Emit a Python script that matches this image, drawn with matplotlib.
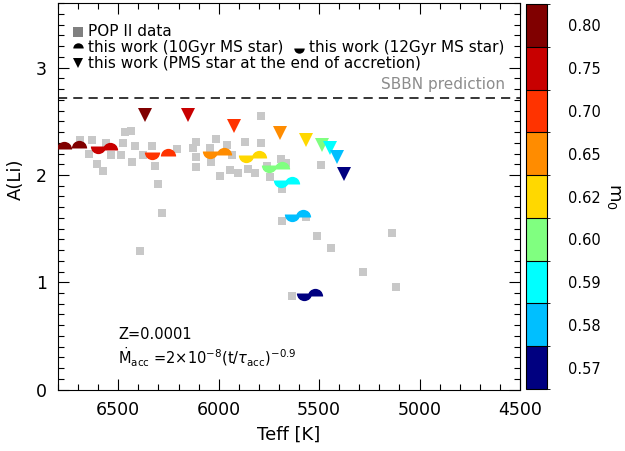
import matplotlib
matplotlib.use("Agg")
import matplotlib.pyplot as plt
import matplotlib.colors as mcolors
import matplotlib.colorbar as mcolorbar
from matplotlib.ticker import MultipleLocator
import numpy as np

# Initial stellar masses and their colours
masses = [0.80, 0.75, 0.70, 0.65, 0.62, 0.60, 0.59, 0.58, 0.57]
mass_colors = ['#800000', '#c80000', '#ff3300', '#ff8c00', '#ffd800',
               '#80ff80', '#00ffff', '#00bfff', '#000080']

# PMS stars at the end of accretion (one per mass)
pms_mass = [0.80, 0.75, 0.70, 0.65, 0.62, 0.60, 0.59, 0.58, 0.57]
pms_teff = [6368, 6154, 5925, 5696, 5563, 5487, 5447, 5413, 5376]
pms_ali = [2.56, 2.56, 2.46, 2.39, 2.33, 2.28, 2.25, 2.17, 2.01]

# 10 Gyr main-sequence stars
ms10_mass = [0.80, 0.80, 0.75, 0.70, 0.65, 0.62, 0.60, 0.59, 0.58, 0.57]
ms10_teff = [6772, 6697, 6543, 6250, 5972, 5798, 5686, 5634, 5579, 5522]
ms10_ali = [2.24, 2.25, 2.23, 2.18, 2.19, 2.16, 2.06, 1.92, 1.61, 0.87]

# 12 Gyr main-sequence stars
ms12_mass = [0.75, 0.70, 0.65, 0.62, 0.60, 0.59, 0.58, 0.57]
ms12_teff = [6602, 6333, 6041, 5865, 5751, 5691, 5634, 5576]
ms12_ali = [2.27, 2.21, 2.22, 2.19, 2.09, 1.95, 1.64, 0.90]

# Population II halo stars
pop2_teff = [6692, 6629, 6646, 6606, 6576, 6559, 6534, 6468, 6438, 6476,
             6484, 6418, 6431, 6377, 6330, 6318, 6302, 6282, 6392, 6210,
             6111, 6128, 6111, 6111, 6011, 6045, 6036, 5961, 5936, 5945,
             5995, 5904, 5870, 5854, 5821, 5787, 5787, 5762, 5746, 5688,
             5663, 5685, 5490, 5685, 5564, 5510, 5442, 5281, 5136, 5116,
             5635]
pop2_ali = [2.33, 2.33, 2.20, 2.10, 2.04, 2.30, 2.19, 2.40, 2.41, 2.30,
            2.19, 2.27, 2.12, 2.19, 2.27, 2.08, 1.92, 1.65, 1.29, 2.24,
            2.31, 2.25, 2.17, 2.07, 2.34, 2.25, 2.12, 2.28, 2.19, 2.05,
            1.99, 2.02, 2.31, 2.06, 2.02, 2.55, 2.30, 2.08, 1.98, 2.15,
            2.11, 1.87, 2.09, 1.57, 1.61, 1.43, 1.32, 1.10, 1.46, 0.96,
            0.87]

sbbn = 2.715

color_of = dict(zip(masses, mass_colors))

fig = plt.figure(figsize=(6.25, 4.51), dpi=100)
ax = fig.add_axes([0.0928, 0.1361, 0.7392, 0.8566])

ax.plot(pop2_teff, pop2_ali, 's', color='#c8c8c8', ms=6.2, mew=0, zorder=2)

for m, t, a in zip(ms12_mass, ms12_teff, ms12_ali):
    ax.plot(t, a, 'o', fillstyle='bottom', color=color_of[m],
            markerfacecoloralt='none', ms=11, mew=0, zorder=3)
for m, t, a in zip(ms10_mass, ms10_teff, ms10_ali):
    ax.plot(t, a, 'o', fillstyle='top', color=color_of[m],
            markerfacecoloralt='none', ms=11, mew=0, zorder=3)
for m, t, a in zip(pms_mass, pms_teff, pms_ali):
    ax.plot(t, a, 'v', color=color_of[m], ms=9.4, mew=0, zorder=4)

ax.axhline(sbbn, color='black', lw=1.1, ls=(0, (6, 4)), zorder=1)
ax.text(4575, sbbn + 0.06, 'SBBN prediction', color='#8c8c8c', fontsize=11,
        ha='right', va='bottom')

ax.set_xlim(6800, 4500)
ax.set_ylim(0, 3.6)
ax.xaxis.set_major_locator(MultipleLocator(500))
ax.xaxis.set_minor_locator(MultipleLocator(100))
ax.yaxis.set_major_locator(MultipleLocator(1))
ax.yaxis.set_minor_locator(MultipleLocator(0.1))
ax.tick_params(which='both', direction='in', top=True, right=True, width=0.8)
ax.tick_params(which='major', length=8, labelsize=12.5, pad=8)
ax.tick_params(which='minor', length=4)
ax.xaxis.set_major_formatter(plt.FuncFormatter(
    lambda v, p: '' if v >= 6800 else f'{v:.0f}'))
for s in ax.spines.values():
    s.set_linewidth(0.8)
ax.set_xlabel('Teff [K]', fontsize=13, labelpad=5)
ax.set_ylabel('A(Li)', fontsize=13)
ax.yaxis.set_label_coords(-0.071, 0.545)

# legend block
lx_m, lx_t = 6700, 6651
ax.plot(lx_m, 3.333, 's', color='#808080', ms=6.5, mew=0)
ax.text(lx_t, 3.333, 'POP II data', fontsize=11, va='center')
ax.plot(lx_m, 3.187, 'o', fillstyle='top', color='black',
        markerfacecoloralt='none', ms=7.5, mew=0)
ax.text(lx_t, 3.187, 'this work (10Gyr MS star)', fontsize=11, va='center')
ax.plot(5598, 3.187, 'o', fillstyle='bottom', color='black',
        markerfacecoloralt='none', ms=7.5, mew=0)
ax.text(5548, 3.187, 'this work (12Gyr MS star)', fontsize=11, va='center')
ax.plot(lx_m, 3.044, 'v', color='black', ms=7, mew=0)
ax.text(lx_t, 3.044, 'this work (PMS star at the end of accretion)',
        fontsize=11, va='center')

ax.text(6500, 0.51, 'Z=0.0001', fontsize=10.5, va='center')
ax.text(6500, 0.30,
        r'$\dot{\mathrm{M}}_{\mathrm{acc}}$ =2$\times$10$^{-8}$(t/$\tau_{\mathrm{acc}}$)$^{-0.9}$',
        fontsize=10.5, va='center')

# discrete colour bar for the initial mass
cax = fig.add_axes([0.8416, 0.1375, 0.0331, 0.8535])
cmap = mcolors.ListedColormap(mass_colors[::-1])
norm = mcolors.BoundaryNorm(np.arange(len(masses) + 1), cmap.N)
cb = mcolorbar.ColorbarBase(cax, cmap=cmap, norm=norm, drawedges=True)
cb.set_ticks(np.arange(len(masses)) + 0.5)
cb.set_ticklabels([f'{m:.2f}' for m in masses[::-1]])
cb.outline.set_linewidth(0.8)
cb.dividers.set_linewidth(0.8)
cax.tick_params(length=0, labelsize=10.5, pad=15)
cb.set_label(r'm$_0$', rotation=270, fontsize=13, labelpad=16)

fig.savefig('out.png', dpi=100)
